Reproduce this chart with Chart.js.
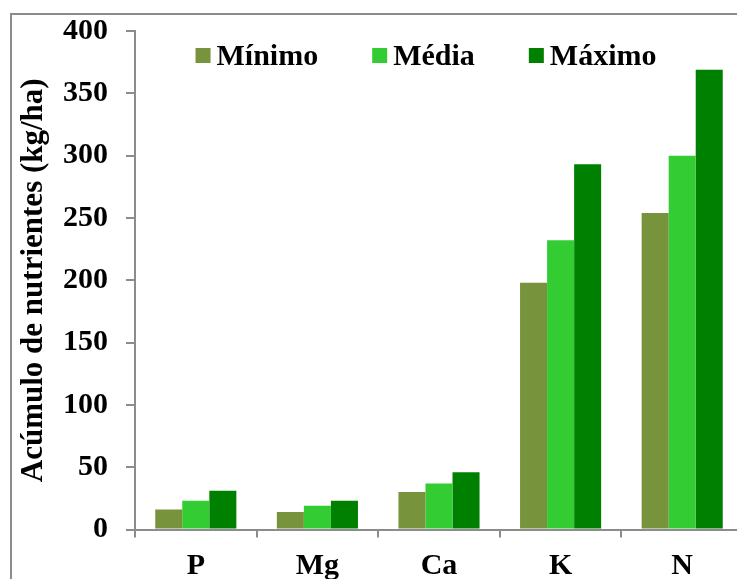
<!DOCTYPE html>
<html>
<head>
<meta charset="utf-8">
<script src="https://cdn.jsdelivr.net/npm/chart.js@4"></script>
<style>
  html, body { margin: 0; padding: 0; overflow: hidden; background: #fff; }
  #frame {
    position: absolute; left: 10px; top: 13px; width: 800px; height: 700px;
    border-left: 2px solid #8c8c8c; border-top: 2px solid #8c8c8c; background: #fff;
  }
  #chart { position: absolute; left: 0; top: 0; }
</style>
</head>
<body>
<div id="frame"></div>
<canvas id="chart" width="743" height="579"></canvas>
<script>
const nutrients = ['P', 'Mg', 'Ca', 'K', 'N'];
const minimo = [16, 14, 30, 198, 254];
const media = [23, 19, 37, 232, 300];
const maximo = [31, 23, 46, 293, 369];
const yTicks = [0, 50, 100, 150, 200, 250, 300, 350, 400];

const serif = { family: 'Liberation Serif', weight: 'bold', size: 30 };

// legend drawn inside the plot, near the top
const innerLegend = {
    id: 'innerLegend',
    afterDraw(chart) {
        const ctx = chart.ctx;
        ctx.save();
        ctx.font = 'bold 30px "Liberation Serif"';
        ctx.textBaseline = 'alphabetic';
        const items = chart.data.datasets.map(ds => ({ label: ds.label, color: ds.backgroundColor, w: ctx.measureText(ds.label).width }));
        const gap = 54;
        const total = items.reduce((s, it) => s + 15 + 6 + it.w, 0) + gap * (items.length - 1);
        let x = 426 - total / 2;
        items.forEach(it => {
            ctx.fillStyle = it.color;
            ctx.fillRect(x, 48, 15, 15);
            ctx.fillStyle = '#000';
            ctx.fillText(it.label, x + 21, 65);
            x += 15 + 6 + it.w + gap;
        });
        ctx.restore();
    }
};

new Chart(document.querySelector('#chart').getContext('2d'), {
    type: 'bar',
    data: {
        labels: nutrients,
        datasets: [
            { label: 'Mínimo', data: minimo, backgroundColor: '#77933c' },
            { label: 'Média', data: media, backgroundColor: '#33cc33' },
            { label: 'Máximo', data: maximo, backgroundColor: '#008000' }
        ]
    },
    options: {
        responsive: false,
        animation: false,
        categoryPercentage: 0.667,
        barPercentage: 1.0,
        layout: { padding: { top: 31, left: 0, right: 0, bottom: 0 } },
        plugins: {
            legend: { display: false },
            tooltip: { enabled: false }
        },
        scales: {
            x: {
                grid: { display: true, drawOnChartArea: false, drawTicks: true, tickLength: 8, color: '#8c8c8c', lineWidth: 2, offset: true },
                border: { color: '#8c8c8c', width: 2 },
                ticks: { color: '#000', font: serif, padding: 11 },
                afterFit(scale) { scale.height = 49.5; }
            },
            y: {
                min: 0,
                max: 400,
                afterBuildTicks(scale) { scale.ticks = yTicks.map(v => ({ value: v })); },
                grid: { display: true, drawOnChartArea: false, drawTicks: true, tickLength: 9, color: '#8c8c8c', lineWidth: 2 },
                border: { color: '#8c8c8c', width: 2 },
                ticks: { color: '#000', font: serif, padding: 18 },
                title: {
                    display: true,
                    text: 'Acúmulo de nutrientes (kg/ha)',
                    color: '#000',
                    font: { family: 'Liberation Serif', weight: 'bold', size: 31 },
                    padding: { top: 15, bottom: 0 }
                },
                afterFit(scale) {
                    scale.width = 135;
                    // top/bottom labels may overflow, keep the plot edges fixed
                    scale.paddingTop = 0;
                    scale.paddingBottom = 0;
                }
            }
        }
    },
    plugins: [innerLegend]
});
</script>
</body>
</html>
